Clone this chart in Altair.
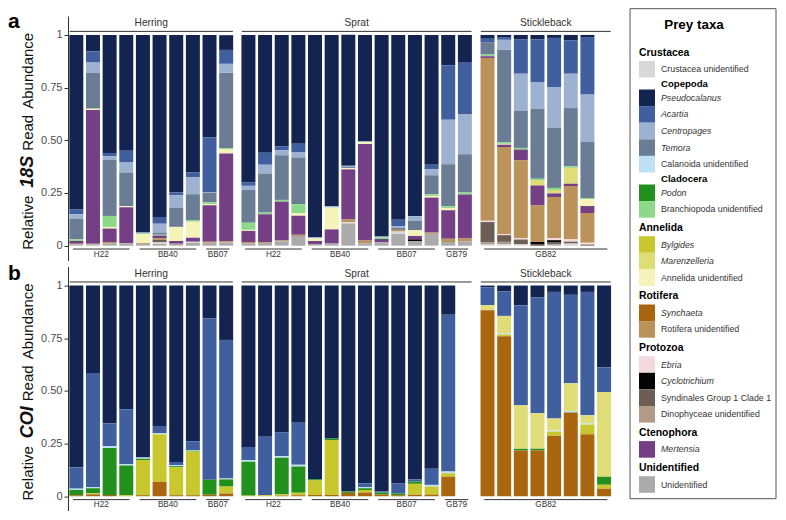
import altair as alt
import pandas as pd

# ---------------- taxa (legend order) ----------------
TAXA_CODES = ["CR", "PS", "AC", "CE", "TE", "CA", "PO", "BR", "BY", "MA", "AN",
              "SY", "RO", "EB", "CY", "SD", "DI", "ME", "UN"]
TAXA_LABELS = ["Crustacea unidentified", "Pseudocalanus", "Acartia", "Centropages", "Temora",
               "Calanoida unidentified", "Podon", "Branchiopoda unidentified", "Bylgides",
               "Marenzelleria", "Annelida unidentified", "Synchaeta", "Rotifera unidentified",
               "Ebria", "Cyclotrichium", "Syndinales Group 1 Clade 1", "Dinophyceae unidentified",
               "Mertensia", "Unidentified"]
TAXA_COLORS = ["#D8D8D8", "#12244F", "#3F5F9F", "#9CB2D0", "#6A7D95", "#BEE2F4", "#21901C",
               "#8DD98A", "#C9C72E", "#DEDD78", "#F5F3B8", "#A9660F", "#BB935A", "#F3D8DC",
               "#050505", "#6C5E55", "#B09B8B", "#743F84", "#ABABAB"]
TAXA_ITALIC = [False, True, True, True, True, False, True, False, True, True, False,
               True, False, True, True, False, False, True, False]
# stacking order, bottom -> top
STACK_ORDER = ["UN", "CR", "DI", "SD", "CY", "EB", "RO", "SY", "ME", "BY", "PO", "CA",
               "AN", "MA", "BR", "TE", "CE", "AC", "PS"]

# ---------------- sample layout ----------------
SPECIES = ["Herring", "Sprat", "Stickleback"]
N_SLOTS = {"Herring": 10, "Sprat": 14, "Stickleback": 8}
GROUPS = {
    "Herring": [("H22", 0, 4), ("BB40", 4, 8), ("BB07", 8, 10)],
    "Sprat": [("H22", 0, 4), ("BB40", 4, 8), ("BB07", 8, 12), ("GB79", 12, 14)],
    "Stickleback": [("GB82", 0, 8)],
}

# ---------------- 18S relative read abundance ----------------
HERRING_18S = [
    {"PS": .828, "AC": .023, "CE": .021, "TE": .098, "BR": .008, "ME": .013, "RO": .003, "UN": .006},
    {"PS": .078, "AC": .053, "CE": .048, "TE": .171, "AN": .006, "ME": .635, "RO": .003, "UN": .006},
    {"PS": .560, "AC": .016, "CE": .016, "TE": .267, "BR": .052, "AN": .008, "ME": .064, "RO": .005, "UN": .012},
    {"PS": .549, "AC": .054, "CE": .050, "TE": .159, "AN": .006, "ME": .169, "RO": .003, "UN": .010},
    {"PS": .938, "CE": .005, "BR": .003, "AN": .042, "RO": .004, "UN": .008},
    {"PS": .864, "AC": .032, "CE": .042, "TE": .010, "BR": .004, "ME": .012, "RO": .008, "SD": .012, "UN": .010, "CR": .006},
    {"PS": .748, "AC": .013, "CE": .060, "TE": .090, "AN": .067, "ME": .013, "UN": .009},
    {"PS": .653, "AC": .021, "CE": .082, "TE": .125, "BR": .006, "AN": .076, "ME": .019, "UN": .012, "CR": .006},
    {"PS": .487, "AC": .258, "CE": .004, "TE": .045, "BR": .008, "AN": .006, "ME": .174, "RO": .004, "UN": .014},
    {"PS": .070, "AC": .066, "CE": .043, "TE": .357, "BR": .006, "AN": .020, "ME": .416, "RO": .005, "UN": .016},
]
SPRAT_18S = [
    {"PS": .700, "AC": .016, "CE": .020, "TE": .155, "BR": .034, "AN": .005, "ME": .053, "RO": .005, "UN": .012},
    {"PS": .559, "AC": .057, "CE": .042, "TE": .185, "BR": .008, "ME": .132, "RO": .004, "UN": .013},
    {"PS": .528, "AC": .019, "CE": .024, "TE": .212, "BR": .008, "ME": .184, "RO": .005, "UN": .020},
    {"PS": .516, "AC": .039, "CE": .027, "TE": .222, "BR": .041, "AN": .013, "ME": .090, "RO": .006, "UN": .046},
    {"PS": .960, "CE": .006, "AN": .012, "ME": .014, "UN": .008},
    {"PS": .813, "CE": .006, "AN": .104, "ME": .067, "UN": .010},
    {"PS": .622, "CE": .006, "TE": .005, "AN": .006, "ME": .238, "RO": .013, "UN": .106, "CR": .005},
    {"PS": .503, "CE": .006, "AN": .008, "ME": .459, "RO": .014, "UN": .010},
    {"PS": .957, "CE": .006, "BR": .005, "ME": .016, "UN": .016},
    {"PS": .877, "AC": .030, "CE": .008, "TE": .010, "RO": .008, "UN": .057, "CR": .010},
    {"PS": .861, "CE": .022, "TE": .044, "AN": .027, "ME": .016, "CY": .008, "UN": .022},
    {"PS": .616, "AC": .022, "CE": .028, "TE": .090, "BR": .008, "AN": .008, "ME": .166, "RO": .006, "UN": .056},
    {"PS": .144, "AC": .259, "CE": .211, "TE": .199, "BR": .008, "AN": .011, "ME": .135, "RO": .016, "UN": .017},
    {"PS": .128, "AC": .250, "CE": .188, "TE": .182, "BR": .009, "ME": .209, "RO": .013, "UN": .021},
]
STICKLEBACK_18S = [
    {"PS": .018, "AC": .016, "TE": .059, "BR": .008, "ME": .008, "RO": .773, "SD": .097, "DI": .010, "EB": .006, "CR": .005},
    {"PS": .010, "AC": .013, "CE": .048, "TE": .438, "BR": .008, "AN": .004, "ME": .011, "RO": .413, "SD": .032, "DI": .012, "EB": .005, "CR": .006},
    {"PS": .022, "AC": .162, "CE": .177, "TE": .175, "BR": .008, "ME": .051, "RO": .369, "SD": .024, "EB": .006, "CR": .006},
    {"PS": .022, "AC": .204, "CE": .124, "TE": .332, "BR": .006, "MA": .026, "ME": .095, "RO": .174, "SD": .008, "CY": .009},
    {"PS": .014, "AC": .233, "CE": .193, "TE": .286, "BR": .010, "MA": .016, "ME": .017, "RO": .195, "SD": .008, "EB": .010, "CY": .010, "UN": .008},
    {"PS": .025, "AC": .159, "CE": .163, "TE": .276, "BR": .008, "MA": .075, "ME": .011, "RO": .253, "SD": .010, "EB": .010, "CR": .010},
    {"PS": .010, "AC": .273, "CE": .225, "TE": .266, "BR": .006, "AN": .032, "ME": .033, "RO": .141, "SD": .006, "EB": .008},
]

# ---------------- COI relative read abundance ----------------
HERRING_COI = [
    {"PS": .864, "AC": .100, "CA": .006, "PO": .025, "SY": .005},
    {"PS": .415, "AC": .541, "CA": .006, "PO": .024, "BY": .005, "SY": .009},
    {"PS": .655, "AC": .108, "CA": .008, "PO": .223, "SY": .006},
    {"PS": .587, "AC": .261, "CA": .006, "PO": .141, "BY": .005},
    {"PS": .816, "CA": .006, "PO": .006, "BY": .167, "SY": .005},
    {"PS": .666, "AC": .035, "CA": .005, "BY": .226, "SY": .068},
    {"PS": .837, "AC": .016, "CA": .004, "PO": .006, "BY": .132, "SY": .005},
    {"PS": .739, "AC": .041, "CA": .004, "PO": .004, "BY": .207, "SY": .005},
    {"PS": .155, "AC": .767, "PO": .071, "SY": .007},
    {"PS": .258, "AC": .658, "CA": .004, "PO": .034, "BY": .033, "SY": .013},
]
SPRAT_COI = [
    {"PS": .766, "AC": .063, "CA": .007, "PO": .161, "BY": .003},
    {"PS": .718, "AC": .277, "BY": .005},
    {"PS": .696, "AC": .113, "CA": .008, "PO": .174, "BY": .006, "SY": .003},
    {"PS": .647, "AC": .204, "CA": .008, "PO": .124, "BY": .012, "SY": .005},
    {"PS": .919, "PO": .006, "BY": .069, "SY": .006},
    {"PS": .726, "PO": .007, "BY": .261, "SY": .006},
    {"PS": .978, "PO": .006, "SY": .016},
    {"PS": .938, "AC": .019, "CA": .005, "PO": .008, "BY": .012, "SY": .018},
    {"PS": .976, "AC": .006, "PO": .010, "SY": .008},
    {"PS": .938, "AC": .049, "PO": .008, "SY": .005},
    {"PS": .921, "AC": .009, "PO": .011, "BY": .052, "SY": .007},
    {"PS": .869, "AC": .077, "CA": .008, "BY": .038, "SY": .008},
    {"PS": .138, "AC": .745, "CA": .008, "BY": .017, "SY": .092},
]
STICKLEBACK_COI = [
    {"PS": .008, "AC": .085, "MA": .024, "SY": .883},
    {"PS": .028, "AC": .116, "MA": .082, "CA": .006, "BY": .008, "SY": .760},
    {"PS": .093, "AC": .475, "MA": .207, "PO": .008, "SY": .217},
    {"PS": .057, "AC": .549, "MA": .169, "PO": .008, "SY": .217},
    {"PS": .030, "AC": .601, "MA": .057, "CA": .005, "BY": .020, "SY": .287},
    {"PS": .044, "AC": .420, "MA": .131, "CA": .008, "SY": .397},
    {"PS": .030, "AC": .586, "MA": .038, "CA": .006, "BY": .046, "SY": .294},
    {"PS": .388, "AC": .117, "MA": .403, "PO": .037, "BY": .019, "SY": .036},
]

# ---------------- axis / titles ----------------
Y_TICKS = [0, 0.25, 0.5, 0.75, 1]
TITLE_18S = ["Relative", "18S", "Read", "Abundance"]
TITLE_COI = ["Relative", "COI", "Read", "Abundance"]
TITLE_Y = [0.109, 0.351, 0.536, 0.83]
LETTER_Y = {"a": 1.034, "b": 1.026}

# ---------------- geometry ----------------
SLOT_PX = 16.65
PLOT_H = 244.4
Y_MIN, Y_MAX = -0.07, 1.09
FONT = "Liberation Sans"
INK = "#333333"

color_scale = alt.Scale(domain=TAXA_CODES, range=TAXA_COLORS)


def long_df(bars):
    rows = []
    for i, bar in enumerate(bars):
        for code, v in bar.items():
            rows.append({"slot": i, "taxon": code, "value": v,
                         "rank": STACK_ORDER.index(code)})
    return pd.DataFrame(rows)


def panel(bars, species, letter=None, title=None):
    n = N_SLOTS[species]
    xs = alt.Scale(domain=[0, n], nice=False, zero=False)
    ys = alt.Scale(domain=[Y_MIN, Y_MAX], nice=False, zero=False)
    if letter is not None:
        yaxis = alt.Axis(values=Y_TICKS, grid=False, title=None,
                         labelExpr="datum.value == 0 ? '0' : datum.value == 1 ? '1' : format(datum.value, '.2f')",
                         domainColor=INK, tickColor=INK, tickSize=4, labelFontSize=11,
                         labelColor="#4d4d4d", labelPadding=2, labelFont=FONT)
    else:
        yaxis = None

    rects = alt.Chart(long_df(bars)).transform_stack(
        stack="value", groupby=["slot"], as_=["y0", "y1"],
        sort=[alt.SortField(field="rank", order="ascending")]
    ).transform_calculate(
        xa="datum.slot + 0.08", xb="datum.slot + 0.92"
    ).mark_rect().encode(
        x=alt.X("xa:Q", scale=xs, axis=None), x2="xb:Q",
        y=alt.Y("y0:Q", scale=ys, axis=yaxis), y2="y1:Q",
        color=alt.Color("taxon:N", scale=color_scale, legend=None),
    )

    gdf = pd.DataFrame({"label": [g[0] for g in GROUPS[species]],
                        "start": [g[1] for g in GROUPS[species]],
                        "end": [g[2] for g in GROUPS[species]]})
    gbase = alt.Chart(gdf).transform_calculate(
        xa="datum.start + 0.3", xb="datum.end - 0.3", xm="(datum.start + datum.end) / 2")
    grules = gbase.mark_rule(color=INK, strokeWidth=1).encode(
        x=alt.X("xa:Q", scale=xs, axis=None), x2="xb:Q",
        y=alt.Y(datum=-0.016, scale=ys))
    gtext = gbase.mark_text(fontSize=8.2, color=INK, baseline="middle", font=FONT).encode(
        x=alt.X("xm:Q", scale=xs, axis=None), y=alt.Y(datum=-0.042, scale=ys), text="label:N")

    hdf = pd.DataFrame({"name": [species], "n": [n]})
    hbase = alt.Chart(hdf).transform_calculate(xa="0.1", xb="datum.n - 0.1", xm="datum.n / 2")
    hrule = hbase.mark_rule(color=INK, strokeWidth=1).encode(
        x=alt.X("xa:Q", scale=xs, axis=None), x2="xb:Q", y=alt.Y(datum=1.017, scale=ys))
    htext = hbase.mark_text(fontSize=10.2, color=INK, baseline="middle", font=FONT).encode(
        x=alt.X("xm:Q", scale=xs, axis=None), y=alt.Y(datum=1.055, scale=ys), text="name:N")

    layers = [rects, grules, gtext, hrule, htext]

    if letter is not None:
        ldf = pd.DataFrame({"t": [letter], "y": [LETTER_Y[letter]]})
        layers.append(alt.Chart(ldf).mark_text(
            fontSize=21, fontWeight="bold", align="left", baseline="alphabetic",
            color="black", font=FONT).encode(
            x=alt.value(-60), y=alt.Y("y:Q", scale=ys), text="t:N"))
        tdf = pd.DataFrame({"t": title, "y": TITLE_Y, "bold": [False, True, False, False]})
        tbase = alt.Chart(tdf)
        layers.append(tbase.transform_filter("!datum.bold").mark_text(
            fontSize=15, angle=270, align="center", baseline="middle", color="#111",
            font=FONT).encode(x=alt.value(-40), y=alt.Y("y:Q", scale=ys), text="t:N"))
        layers.append(tbase.transform_filter("datum.bold").mark_text(
            fontSize=18, angle=270, align="center", baseline="middle", color="#111",
            fontWeight="bold", fontStyle="italic", font=FONT).encode(
            x=alt.value(-40), y=alt.Y("y:Q", scale=ys), text="t:N"))

    return alt.layer(*layers).properties(width=n * SLOT_PX, height=PLOT_H)


cells = []
for letter, title, bars_list in [("a", TITLE_18S, [HERRING_18S, SPRAT_18S, STICKLEBACK_18S]),
                                 ("b", TITLE_COI, [HERRING_COI, SPRAT_COI, STICKLEBACK_COI])]:
    for k, (sp, bars) in enumerate(zip(SPECIES, bars_list)):
        if k == 0:
            cells.append(panel(bars, sp, letter, title))
        else:
            cells.append(panel(bars, sp))

panels = alt.concat(*cells, columns=3, spacing={"row": 5.6, "column": 5.1},
                    bounds="flush", align="each").resolve_scale(
    x="independent", y="independent")

# ---------------- custom legend ----------------
LEGEND_LAYOUT = [("H", "Crustacea"), ("i", "CR"), ("S", "Copepoda"), ("i", "PS"), ("i", "AC"),
                 ("i", "CE"), ("i", "TE"), ("i", "CA"), ("S", "Cladocera"), ("i", "PO"), ("i", "BR"),
                 ("H", "Annelida"), ("i", "BY"), ("i", "MA"), ("i", "AN"), ("H", "Rotifera"),
                 ("i", "SY"), ("i", "RO"), ("H", "Protozoa"), ("i", "EB"), ("i", "CY"), ("i", "SD"),
                 ("i", "DI"), ("H", "Ctenophora"), ("i", "ME"), ("H", "Unidentified"), ("i", "UN")]
ADVANCE = {("i", "i"): 16.6, ("i", "H"): 18.6, ("H", "i"): 16.5, ("i", "S"): 15.0, ("S", "i"): 13.6}
LEG_W, LEG_H = 146, 490      # legend box size (px-like units, 0 = box top)
LEG_RAISE = 7.3              # box top sits this far above the panels' top
SW = 16.6

leg_rows = []
y = 44.0
prev = None
for kind, key in LEGEND_LAYOUT:
    if prev is not None:
        y += ADVANCE[(prev, kind)]
    if kind == "i":
        idx = TAXA_CODES.index(key)
        leg_rows.append({"text": TAXA_LABELS[idx], "kind": "i", "italic": TAXA_ITALIC[idx],
                         "color": TAXA_COLORS[idx], "y": y, "y0": y - SW / 2, "y1": y + SW / 2,
                         "tx": 31, "sx0": 9, "sx1": 25})
    else:
        leg_rows.append({"text": key, "kind": kind, "italic": False, "color": "#000000",
                         "y": y, "y0": y, "y1": y, "tx": 9 if kind == "H" else 31,
                         "sx0": 0, "sx1": 0})
    prev = kind
leg_df = pd.DataFrame(leg_rows)

lx = alt.Scale(domain=[0, LEG_W], nice=False, zero=False)
ly = alt.Scale(domain=[LEG_RAISE, LEG_H + LEG_RAISE], nice=False, zero=False, reverse=True)
lbase = alt.Chart(leg_df)
box = alt.Chart(pd.DataFrame({"x0": [0], "x1": [LEG_W], "y0": [0], "y1": [LEG_H]})).mark_rect(
    fill="white", stroke="#555555", strokeWidth=1).encode(
    x=alt.X("x0:Q", scale=lx, axis=None), x2="x1:Q",
    y=alt.Y("y0:Q", scale=ly, axis=None), y2="y1:Q")
swatches = lbase.transform_filter("datum.kind == 'i'").mark_rect().encode(
    x=alt.X("sx0:Q", scale=lx, axis=None), x2="sx1:Q",
    y=alt.Y("y0:Q", scale=ly, axis=None), y2="y1:Q",
    color=alt.Color("color:N", scale=None))
lab_norm = lbase.transform_filter("datum.kind == 'i' && !datum.italic").mark_text(
    align="left", baseline="middle", fontSize=8.8, color=INK, font=FONT).encode(
    x=alt.X("tx:Q", scale=lx, axis=None), y=alt.Y("y:Q", scale=ly, axis=None), text="text:N")
lab_ital = lbase.transform_filter("datum.kind == 'i' && datum.italic").mark_text(
    align="left", baseline="middle", fontSize=8.8, color=INK, fontStyle="italic", font=FONT).encode(
    x=alt.X("tx:Q", scale=lx, axis=None), y=alt.Y("y:Q", scale=ly, axis=None), text="text:N")
lab_head = lbase.transform_filter("datum.kind == 'H'").mark_text(
    align="left", baseline="middle", fontSize=10.4, fontWeight="bold", color="black", font=FONT).encode(
    x=alt.X("tx:Q", scale=lx, axis=None), y=alt.Y("y:Q", scale=ly, axis=None), text="text:N")
lab_sub = lbase.transform_filter("datum.kind == 'S'").mark_text(
    align="left", baseline="middle", fontSize=9.6, fontWeight="bold", color="black", font=FONT).encode(
    x=alt.X("tx:Q", scale=lx, axis=None), y=alt.Y("y:Q", scale=ly, axis=None), text="text:N")
ltitle = alt.Chart(pd.DataFrame({"t": ["Prey taxa"], "x": [64], "y": [16]})).mark_text(
    align="center", baseline="middle", fontSize=13.4, fontWeight="bold", color="black", font=FONT).encode(
    x=alt.X("x:Q", scale=lx, axis=None), y=alt.Y("y:Q", scale=ly, axis=None), text="t:N")

legend = alt.layer(box, swatches, lab_norm, lab_ital, lab_head, lab_sub, ltitle).properties(
    width=LEG_W, height=LEG_H)

chart = alt.hconcat(panels, legend, spacing=16).properties(
    padding={"left": 0, "top": 0, "right": 0, "bottom": 0}
).configure(font=FONT).configure_view(stroke="transparent", strokeWidth=0)

chart.save("out.html", embed_options={"renderer": "svg", "actions": False})
